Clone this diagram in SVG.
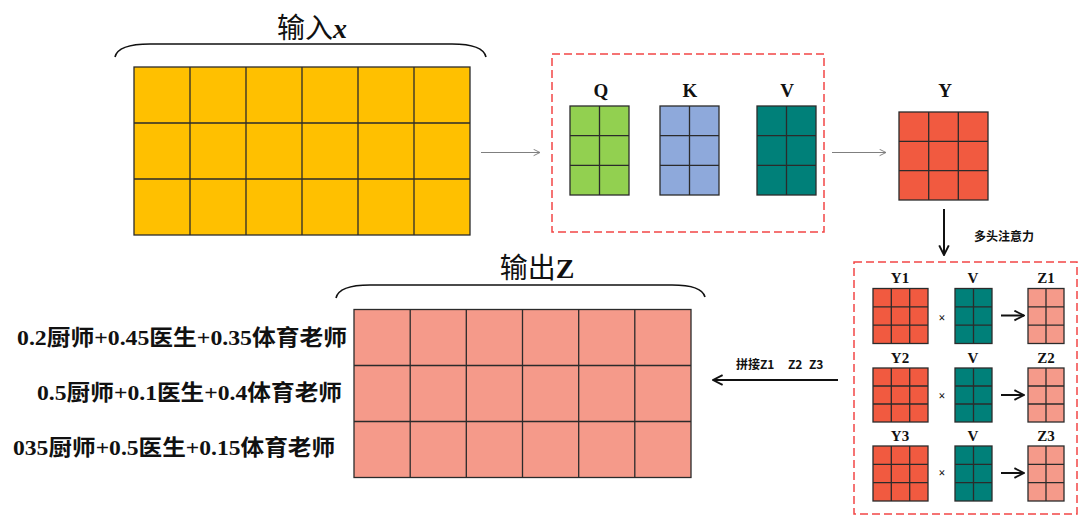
<svg xmlns="http://www.w3.org/2000/svg" width="1080" height="516" viewBox="0 0 1080 516">
<defs>
<style>
.g{stroke:#2b2b2b;stroke-width:1.3;fill:none}
.cx{fill:#FFC000}
.cq{fill:#92D050}
.ck{fill:#8EA9DB}
.cv{fill:#008079}
.cy{fill:#F15A40}
.cz{fill:#F59A8A}
.dash{fill:none;stroke:#F24646;stroke-width:1.5;stroke-dasharray:8 4}
.lbl{font-family:"Liberation Serif","Noto Sans CJK SC",serif;font-weight:bold;text-anchor:middle;fill:#111}
.cjk{font-family:"Noto Sans CJK SC",sans-serif;fill:#111}
.brace{fill:none;stroke:#111;stroke-width:1.6}
.ga{stroke:#7f7f7f;stroke-width:1.2;fill:none}
.ba{stroke:#111;stroke-width:2;fill:none}
.eq{font-family:"Liberation Serif","Noto Sans CJK SC",serif;font-weight:bold;font-size:22px;text-anchor:end;fill:#111}
</style>
<marker id="ag" viewBox="0 0 10 10" refX="9" refY="5" markerWidth="8" markerHeight="8" orient="auto" markerUnits="userSpaceOnUse"><path d="M1,1 L9,5 L1,9" fill="none" stroke="#7f7f7f" stroke-width="1.2"/></marker>
<marker id="ab" viewBox="0 0 10 10" refX="9" refY="5" markerWidth="12" markerHeight="12" orient="auto" markerUnits="userSpaceOnUse"><path d="M1,1 L9,5 L1,9" fill="none" stroke="#111" stroke-width="1.6"/></marker>
</defs>
<rect width="1080" height="516" fill="#fff"/>

<g id="input">
<text x="312" y="38" class="cjk" font-size="28" text-anchor="middle">输入<tspan font-family="Liberation Serif" font-style="italic" font-weight="bold">x</tspan></text>
<path class="brace" d="M115,57 Q118,44 150,44 L452,44 Q483,44 486,57"/>
<rect x="134" y="67" width="336" height="168" class="cx"/>
<rect x="134" y="67" width="336" height="168" class="g"/>
<path class="g" d="M190,67V235M246,67V235M302,67V235M358,67V235M414,67V235M134,123H470M134,179H470"/>
</g>

<g id="qkv">
<rect x="552" y="54" width="272" height="178" class="dash"/>
<text x="601" y="97" class="lbl" font-size="19">Q</text>
<text x="690" y="97" class="lbl" font-size="19">K</text>
<text x="787" y="97" class="lbl" font-size="19">V</text>
<rect x="570" y="106" width="59" height="89" class="cq"/>
<rect x="570" y="106" width="59" height="89" class="g"/>
<path class="g" d="M599.5,106V195M570,135.7H629M570,165.3H629"/>
<rect x="660" y="106" width="59" height="89" class="ck"/>
<rect x="660" y="106" width="59" height="89" class="g"/>
<path class="g" d="M689.5,106V195M660,135.7H719M660,165.3H719"/>
<rect x="757" y="106" width="59" height="89" class="cv"/>
<rect x="757" y="106" width="59" height="89" class="g"/>
<path class="g" d="M786.5,106V195M757,135.7H816M757,165.3H816"/>
</g>

<g id="y">
<text x="945" y="97" class="lbl" font-size="19">Y</text>
<rect x="899" y="112" width="89" height="88" class="cy"/>
<rect x="899" y="112" width="89" height="88" class="g"/>
<path class="g" d="M928.7,112V200M958.3,112V200M899,141.3H988M899,170.7H988"/>
<text x="1004" y="241" class="cjk" font-size="12" font-weight="bold" text-anchor="middle">多头注意力</text>
</g>

<g id="heads">
<rect x="854" y="262" width="223" height="252" class="dash"/>
<text x="900" y="283" class="lbl" font-size="15">Y1</text>
<text x="973" y="283" class="lbl" font-size="15">V</text>
<text x="1046" y="283" class="lbl" font-size="15">Z1</text>
<text x="900" y="363" class="lbl" font-size="15">Y2</text>
<text x="973" y="363" class="lbl" font-size="15">V</text>
<text x="1046" y="363" class="lbl" font-size="15">Z2</text>
<text x="900" y="441" class="lbl" font-size="15">Y3</text>
<text x="973" y="441" class="lbl" font-size="15">V</text>
<text x="1046" y="441" class="lbl" font-size="15">Z3</text>
<text x="942" y="322" class="lbl" font-size="12" fill="#333">×</text>
<text x="942" y="400" class="lbl" font-size="12" fill="#333">×</text>
<text x="942" y="477" class="lbl" font-size="12" fill="#333">×</text>

<rect x="873" y="288.5" width="55" height="55" class="cy"/>
<rect x="873" y="288.5" width="55" height="55" class="g"/>
<path class="g" d="M891.3,288.5V343.5M909.7,288.5V343.5M873,306.8H928M873,325.2H928"/>
<rect x="955" y="288.5" width="37" height="55" class="cv"/>
<rect x="955" y="288.5" width="37" height="55" class="g"/>
<path class="g" d="M973.5,288.5V343.5M955,306.8H992M955,325.2H992"/>
<rect x="1028" y="288.5" width="36" height="55" class="cz"/>
<rect x="1028" y="288.5" width="36" height="55" class="g"/>
<path class="g" d="M1046,288.5V343.5M1028,306.8H1064M1028,325.2H1064"/>

<rect x="873" y="368" width="55" height="54" class="cy"/>
<rect x="873" y="368" width="55" height="54" class="g"/>
<path class="g" d="M891.3,368V422M909.7,368V422M873,386H928M873,404H928"/>
<rect x="955" y="368" width="37" height="54" class="cv"/>
<rect x="955" y="368" width="37" height="54" class="g"/>
<path class="g" d="M973.5,368V422M955,386H992M955,404H992"/>
<rect x="1028" y="368" width="36" height="54" class="cz"/>
<rect x="1028" y="368" width="36" height="54" class="g"/>
<path class="g" d="M1046,368V422M1028,386H1064M1028,404H1064"/>

<rect x="873" y="446" width="55" height="55" class="cy"/>
<rect x="873" y="446" width="55" height="55" class="g"/>
<path class="g" d="M891.3,446V501M909.7,446V501M873,464.3H928M873,482.7H928"/>
<rect x="955" y="446" width="37" height="55" class="cv"/>
<rect x="955" y="446" width="37" height="55" class="g"/>
<path class="g" d="M973.5,446V501M955,464.3H992M955,482.7H992"/>
<rect x="1028" y="446" width="36" height="55" class="cz"/>
<rect x="1028" y="446" width="36" height="55" class="g"/>
<path class="g" d="M1046,446V501M1028,464.3H1064M1028,482.7H1064"/>
</g>

<g id="output">
<text x="537" y="278" class="cjk" font-size="28" text-anchor="middle">输出<tspan font-family="Liberation Serif" font-weight="bold">Z</tspan></text>
<path class="brace" d="M336,298 Q339,285 370,285 L672,285 Q702,285 705,297"/>
<rect x="354" y="309.5" width="337" height="168" class="cz"/>
<rect x="354" y="309.5" width="337" height="168" class="g"/>
<path class="g" d="M410.2,309.5V477.5M466.3,309.5V477.5M522.5,309.5V477.5M578.7,309.5V477.5M634.8,309.5V477.5M354,365.5H691M354,421.5H691"/>
<text x="347" y="345" class="eq" textLength="330" lengthAdjust="spacingAndGlyphs">0.2厨师+0.45医生+0.35体育老师</text>
<text x="342" y="400" class="eq" textLength="305" lengthAdjust="spacingAndGlyphs">0.5厨师+0.1医生+0.4体育老师</text>
<text x="335" y="455" class="eq" textLength="322" lengthAdjust="spacingAndGlyphs">035厨师+0.5医生+0.15体育老师</text>
</g>

<g id="connectors">
<line x1="481" y1="152.5" x2="540" y2="152.5" class="ga" marker-end="url(#ag)"/>
<line x1="832" y1="152.5" x2="886" y2="152.5" class="ga" marker-end="url(#ag)"/>
<line x1="944" y1="209" x2="944" y2="255" class="ba" marker-end="url(#ab)"/>
<line x1="1001" y1="315.5" x2="1024" y2="315.5" class="ba" marker-end="url(#ab)"/>
<line x1="1001" y1="395" x2="1024" y2="395" class="ba" marker-end="url(#ab)"/>
<line x1="1001" y1="473" x2="1024" y2="473" class="ba" marker-end="url(#ab)"/>
<line x1="838" y1="380" x2="713" y2="380" class="ba" marker-end="url(#ab)"/>
<text x="736" y="369" class="cjk" font-size="12" font-weight="bold">拼接Z1<tspan x="788">Z2</tspan><tspan x="809">Z3</tspan></text>
</g>
</svg>
